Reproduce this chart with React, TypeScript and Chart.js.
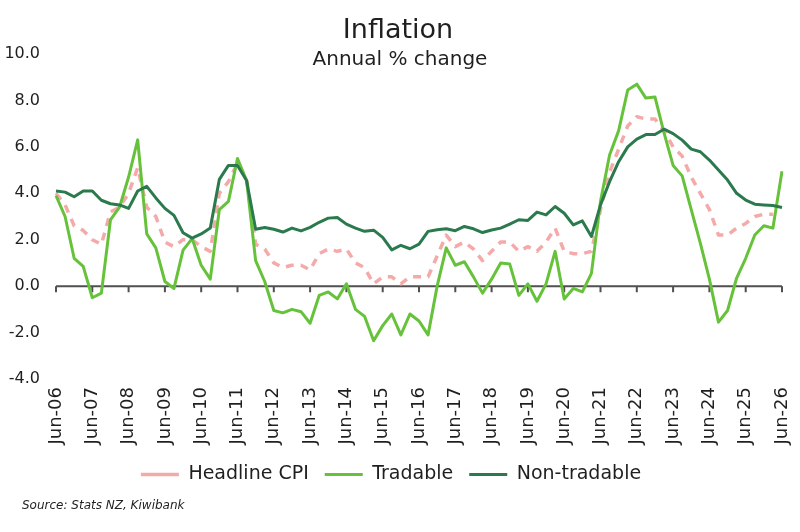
import React, { useEffect, useRef } from "react";
import { Chart, registerables } from "chart.js";

Chart.register(...registerables);

const FONT = "'DejaVu Sans', sans-serif";
const TEXT = "#1f1f1f";

// Year labels shown on the x axis (every June quarter)
const yearLabels = [
  "Jun-06", "Jun-07", "Jun-08", "Jun-09", "Jun-10", "Jun-11", "Jun-12",
  "Jun-13", "Jun-14", "Jun-15", "Jun-16", "Jun-17", "Jun-18", "Jun-19",
  "Jun-20", "Jun-21", "Jun-22", "Jun-23", "Jun-24", "Jun-25", "Jun-26",
];
const quarterMonths = ["Jun", "Sep", "Dec", "Mar"];

// Quarterly categories from Jun-06 to Jun-26
const quarters: string[] = [];
for (let i = 0; i <= (yearLabels.length - 1) * 4; i++) {
  const yy = 6 + Math.floor((i + 1) / 4);
  quarters.push(`${quarterMonths[i % 4]}-${String(yy).padStart(2, "0")}`);
}

// Annual % change, quarterly
const headlineCPI = [
  4.0, 3.5, 2.6, 2.4, 2.0, 1.8, 3.2, 3.4, 4.0, 5.1,
  3.4, 3.0, 1.9, 1.7, 2.0, 2.0, 1.7, 1.5, 4.0, 4.5,
  5.3, 4.6, 1.8, 1.6, 1.0, 0.8, 0.9, 0.9, 0.7, 1.4,
  1.6, 1.5, 1.6, 1.0, 0.8, 0.1, 0.4, 0.4, 0.1, 0.4,
  0.4, 0.4, 1.3, 2.2, 1.7, 1.9, 1.6, 1.1, 1.5, 1.9,
  1.9, 1.5, 1.7, 1.5, 1.9, 2.5, 1.5, 1.4, 1.4, 1.5,
  3.3, 4.9, 5.9, 6.9, 7.3, 7.2, 7.2, 6.7, 6.0, 5.6,
  4.7, 4.0, 3.3, 2.2, 2.2, 2.5, 2.7, 3.0, 3.1, 3.1,
  null,
];

const tradable = [
  3.9, 3.0, 1.2, 0.85, -0.5, -0.3, 2.85, 3.4, 4.7, 6.3,
  2.25, 1.65, 0.2, -0.1, 1.55, 2.05, 0.9, 0.3, 3.3, 3.65,
  5.5, 4.55, 1.1, 0.2, -1.05, -1.15, -1.0, -1.1, -1.6, -0.4,
  -0.25, -0.55, 0.1, -1.0, -1.3, -2.35, -1.7, -1.2, -2.1, -1.2,
  -1.5, -2.1, 0.0, 1.65, 0.9, 1.05, 0.4, -0.3, 0.3, 1.0,
  0.95, -0.4, 0.1, -0.65, 0.1, 1.5, -0.55, -0.1, -0.25, 0.55,
  3.65, 5.65, 6.7, 8.45, 8.7, 8.1, 8.15, 6.6, 5.2, 4.75,
  3.3, 1.85, 0.3, -1.55, -1.05, 0.35, 1.2, 2.2, 2.6, 2.5,
  4.95,
];

const nonTradable = [
  4.1, 4.05, 3.85, 4.1, 4.1, 3.7, 3.55, 3.5, 3.35, 4.1,
  4.3, 3.8, 3.35, 3.05, 2.3, 2.07, 2.25, 2.5, 4.6, 5.2,
  5.2, 4.55, 2.45, 2.53, 2.45, 2.33, 2.5, 2.38, 2.53, 2.75,
  2.93, 2.96, 2.67, 2.5, 2.36, 2.41, 2.1, 1.56, 1.76, 1.61,
  1.81, 2.36, 2.43, 2.47, 2.39, 2.57, 2.47, 2.31, 2.42, 2.5,
  2.67, 2.86, 2.83, 3.19, 3.07, 3.43, 3.14, 2.64, 2.81, 2.14,
  3.5, 4.5, 5.36, 6.0, 6.33, 6.53, 6.53, 6.76, 6.57, 6.29,
  5.9, 5.79, 5.43, 5.0, 4.57, 4.0, 3.71, 3.53, 3.5, 3.47,
  3.39,
];

const titleText = "Inflation";
const subtitleText = "Annual % change";
const sourceText = "Source: Stats NZ, Kiwibank";

// Horizontal axis drawn through zero, with a short tick below it at each June
const zeroAxisPlugin = {
  id: "zeroAxis",
  beforeDatasetsDraw(chart: any) {
    const { ctx, chartArea, scales } = chart;
    const y0 = scales.y.getPixelForValue(0);
    ctx.save();
    ctx.strokeStyle = "#505050";
    ctx.lineWidth = 2;
    ctx.beginPath();
    ctx.moveTo(chartArea.left, y0);
    ctx.lineTo(chartArea.right, y0);
    for (let i = 0; i < quarters.length; i += 4) {
      const px = scales.x.getPixelForValue(i);
      ctx.moveTo(px, y0);
      ctx.lineTo(px, y0 + 6);
    }
    ctx.stroke();
    ctx.restore();
  },
};

// Title, subtitle and source note
const annotationPlugin = {
  id: "textBlocks",
  afterDraw(chart: any) {
    const { ctx, width, height } = chart;
    ctx.save();
    ctx.fillStyle = TEXT;
    ctx.textAlign = "center";
    ctx.textBaseline = "middle";
    ctx.font = `27px ${FONT}`;
    ctx.fillText(titleText, width / 2 - 2, 31);
    ctx.font = `20px ${FONT}`;
    ctx.fillText(subtitleText, width / 2, 60);
    ctx.textAlign = "left";
    ctx.font = `italic 12px ${FONT}`;
    ctx.fillText(sourceText, 22, height - 26);
    ctx.restore();
  },
};

export default function App() {
  const canvasRef = useRef<HTMLCanvasElement | null>(null);

  useEffect(() => {
    if (!canvasRef.current) return;
    const chart = new Chart(canvasRef.current, {
      type: "line",
      data: {
        labels: quarters,
        datasets: [
          {
            label: "Headline CPI",
            data: headlineCPI,
            borderColor: "#F5AAAA",
            backgroundColor: "#F5AAAA",
            borderWidth: 3.5,
            borderDash: [8, 7],
            order: 3,
          },
          {
            label: "Tradable",
            data: tradable,
            borderColor: "#66C23A",
            backgroundColor: "#66C23A",
            borderWidth: 3,
            order: 2,
          },
          {
            label: "Non-tradable",
            data: nonTradable,
            borderColor: "#2A7A4D",
            backgroundColor: "#2A7A4D",
            borderWidth: 3,
            order: 1,
          },
        ],
      },
      options: {
        animation: false,
        responsive: true,
        maintainAspectRatio: false,
        layout: { padding: { top: 54, right: 18, bottom: 38, left: 0 } },
        elements: {
          point: { radius: 0, hoverRadius: 0 },
          line: { tension: 0, borderJoinStyle: "round" },
        },
        scales: {
          x: {
            grid: { display: false, drawTicks: false },
            border: { display: false },
            ticks: {
              autoSkip: false,
              minRotation: 90,
              maxRotation: 90,
              padding: 8,
              color: TEXT,
              font: { family: FONT, size: 18 },
              callback: (_v: any, i: number) =>
                i % 4 === 0 ? yearLabels[i / 4] : "",
            },
            afterFit: (s: any) => {
              s.height = 70;
              s.paddingLeft = 0;
              s.paddingRight = 0;
            },
          },
          y: {
            min: -4,
            max: 10,
            grid: { display: false, drawTicks: false },
            border: { display: false },
            ticks: {
              stepSize: 2,
              padding: 16,
              color: TEXT,
              font: { family: FONT, size: 16 },
              callback: (v: any) => Number(v).toFixed(1),
            },
            afterFit: (s: any) => {
              s.width = 56;
            },
          },
        },
        plugins: {
          title: { display: false },
          tooltip: { enabled: false },
          legend: {
            position: "bottom",
            labels: {
              usePointStyle: true,
              pointStyle: "line",
              pointStyleWidth: 38,
              padding: 16,
              color: TEXT,
              font: { family: FONT, size: 19 },
              sort: (a: any, b: any) => a.datasetIndex - b.datasetIndex,
              generateLabels: (c: any) =>
                Chart.defaults.plugins.legend.labels
                  .generateLabels(c)
                  .map((item: any) => ({
                    ...item,
                    lineDash:
                      item.lineDash && item.lineDash.length ? [11, 9] : [],
                  })),
            },
          },
        },
      },
      plugins: [zeroAxisPlugin, annotationPlugin],
    });
    return () => chart.destroy();
  }, []);

  return (
    <div
      style={{
        position: "fixed",
        left: 0,
        top: 0,
        width: 800,
        height: 532,
        background: "#ffffff",
      }}
    >
      <canvas ref={canvasRef} />
    </div>
  );
}
